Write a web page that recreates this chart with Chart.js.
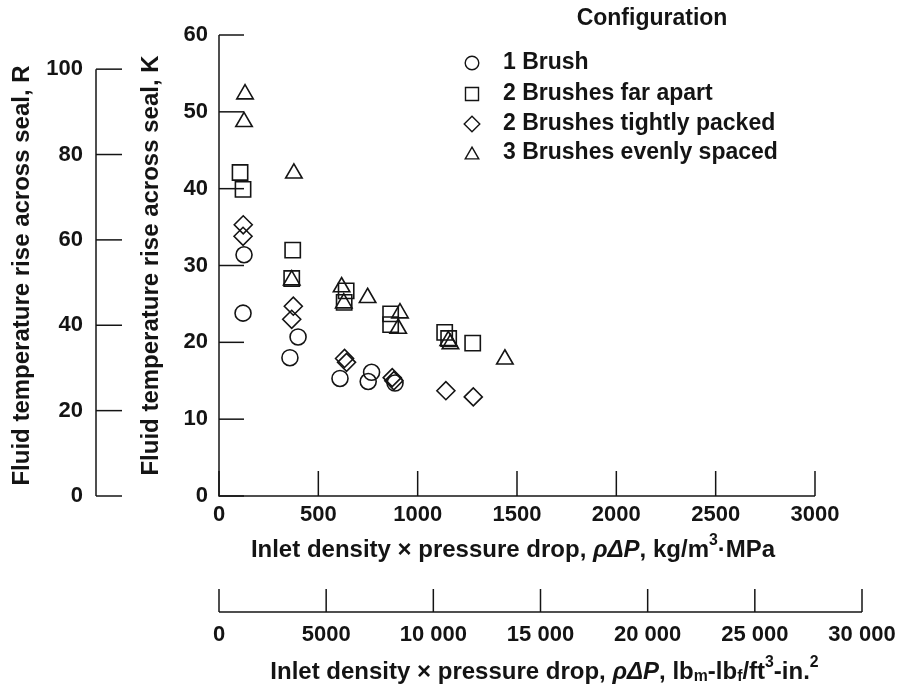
<!DOCTYPE html>
<html>
<head>
<meta charset="utf-8">
<style>
html,body{margin:0;padding:0;background:#ffffff;}
#wrap{width:902px;height:691px;position:relative;}
</style>
<script src="https://cdn.jsdelivr.net/npm/chart.js@4/dist/chart.umd.min.js"></script>
</head>
<body>
<div id="wrap"><canvas id="c" width="902" height="691"></canvas></div>
<script>
// ---------------- data ----------------
const seriesNames = ['1 Brush', '2 Brushes far apart', '2 Brushes tightly packed', '3 Brushes evenly spaced'];

// x: inlet density x pressure drop, kg/m3·MPa ; y: temperature rise, K
const oneBrushX = [126, 121, 357, 398, 609, 768, 751, 886];
const oneBrushK = [31.4, 23.8, 18.0, 20.7, 15.3, 16.1, 14.9, 14.7];

const farApartX = [106, 121, 371, 366, 640, 630, 864, 864, 1136, 1156, 1277];
const farApartK = [42.1, 39.9, 32.0, 28.3, 26.7, 25.2, 23.7, 22.3, 21.3, 20.5, 19.9];

const tightX = [122, 121, 374, 366, 632, 642, 872, 880, 1142, 1280];
const tightK = [35.3, 33.8, 24.7, 23.0, 17.9, 17.4, 15.4, 15.0, 13.7, 12.9];

const evenX = [131, 126, 377, 366, 617, 628, 748, 911, 902, 1154, 1165, 1439];
const evenK = [52.3, 48.7, 42.0, 28.1, 27.2, 25.1, 25.8, 23.8, 21.8, 20.2, 19.8, 17.8];

// tick labels
const xTicksSI = [0, 500, 1000, 1500, 2000, 2500, 3000];
const xTicksUS = [0, 5000, 10000, 15000, 20000, 25000, 30000];
const yTicksK = [0, 10, 20, 30, 40, 50, 60];
const yTicksR = [0, 20, 40, 60, 80, 100];

// ---------------- styling ----------------
const INK = '#141414';
const FONT = '"Liberation Sans", Arial, Helvetica, sans-serif';
Chart.defaults.font.family = FONT;
Chart.defaults.color = INK;

function pts(xs, ys) { return xs.map((v, i) => ({x: v, y: ys[i]})); }
function ds(label, xs, ys, style, r) {
  return {
    label: label, data: pts(xs, ys), pointStyle: style, pointRadius: r, pointHoverRadius: r,
    backgroundColor: 'rgba(0,0,0,0)', borderColor: INK, borderWidth: 1.6, showLine: false
  };
}

const datasets = [
  ds(seriesNames[0], oneBrushX, oneBrushK, 'circle', 8),
  ds(seriesNames[1], farApartX, farApartK, 'rect', 10.8),
  ds(seriesNames[2], tightX, tightK, 'rectRot', 9),
  ds(seriesNames[3], evenX, evenK, 'triangle', 9.5)
];

function groupDigits(v) {
  return v >= 10000 ? String(v).replace(/\B(?=(\d{3})+(?!\d))/g, ' ') : String(v);
}

function line(ctx, x1, y1, x2, y2) {
  ctx.beginPath(); ctx.moveTo(x1, y1); ctx.lineTo(x2, y2); ctx.stroke();
}

// axis lines and inward tick marks, placed through the scales
const axisPlugin = {
  id: 'paperAxes',
  beforeDatasetsDraw(chart) {
    const {ctx} = chart;
    const {x, xUS, y, yR} = chart.scales;
    ctx.save();
    ctx.strokeStyle = INK; ctx.lineWidth = 1.5;
    const x0 = x.getPixelForValue(0), x1 = x.getPixelForValue(3000);
    const y0 = y.getPixelForValue(0), y1 = y.getPixelForValue(60);
    line(ctx, x0, y0 + 0.75, x0, y1);
    yTicksK.forEach(v => { const p = y.getPixelForValue(v); line(ctx, x0, p, x0 + 25, p); });
    line(ctx, x0, y0, x1, y0);
    xTicksSI.forEach(v => { const p = x.getPixelForValue(v); line(ctx, p, y0, p, y0 - 25); });
    const rx = yR.right - 34;
    line(ctx, rx, yR.getPixelForValue(0), rx, yR.getPixelForValue(100));
    yTicksR.forEach(v => { const p = yR.getPixelForValue(v); line(ctx, rx, p, rx + 26, p); });
    const uy = xUS.top + 26;
    line(ctx, xUS.getPixelForValue(0), uy, xUS.getPixelForValue(30000), uy);
    xTicksUS.forEach(v => { const p = xUS.getPixelForValue(v); line(ctx, p, uy, p, uy - 23); });
    ctx.restore();
  }
};

// rich-text axis titles for the two x axes
function drawRich(ctx, segs, cx, cy, size) {
  const parts = segs.map(s => {
    const o = (typeof s === 'string') ? {t: s} : s;
    let fs = size, dy = 0, style = 'bold';
    if (o.sup) { fs = size * 0.66; dy = -size * 0.38; }
    if (o.sub) { fs = size * 0.66; dy = size * 0.2; }
    if (o.it) { style = 'italic bold'; }
    const font = style + ' ' + fs + 'px ' + FONT;
    ctx.font = font;
    const text = o.t || o.sup || o.sub || o.it;
    return {text, font, dy, w: ctx.measureText(text).width};
  });
  const total = parts.reduce((a, p) => a + p.w, 0);
  let xx = cx - total / 2;
  ctx.textBaseline = 'middle'; ctx.textAlign = 'left'; ctx.fillStyle = INK;
  parts.forEach(p => { ctx.font = p.font; ctx.fillText(p.text, xx, cy + p.dy); xx += p.w; });
}

const titlePlugin = {
  id: 'xTitles',
  afterDraw(chart) {
    const {ctx} = chart;
    const {x, xUS} = chart.scales;
    ctx.save();
    const cSI = (x.getPixelForValue(0) + x.getPixelForValue(3000)) / 2 - 4;
    drawRich(ctx, ['Inlet density × pressure drop, ', {it: 'ρΔP'}, ', kg/m', {sup: '3'}, '·MPa'], cSI, x.top + 54, 24);
    const cUS = (xUS.getPixelForValue(0) + xUS.getPixelForValue(30000)) / 2 + 4;
    drawRich(ctx, ['Inlet density × pressure drop, ', {it: 'ρΔP'}, ', lb', {sub: 'm'}, '-lb', {sub: 'f'}, '/ft', {sup: '3'}, '-in.', {sup: '2'}], cUS, xUS.top + 86, 24);
    ctx.restore();
  }
};

// legend drawn from the datasets
const legendPlugin = {
  id: 'paperLegend',
  afterDraw(chart) {
    const {ctx} = chart;
    ctx.save();
    ctx.fillStyle = INK;
    ctx.font = 'bold 23px ' + FONT;
    ctx.textAlign = 'center'; ctx.textBaseline = 'middle';
    ctx.fillText('Configuration', 652, 19);
    const rows = [63, 94, 124, 153];
    const legR = [6.8, 9.2, 7.8, 7.8];
    chart.data.datasets.forEach((d, i) => {
      ctx.strokeStyle = INK; ctx.lineWidth = 1.4; ctx.fillStyle = 'rgba(0,0,0,0)';
      Chart.helpers.drawPoint(ctx, {pointStyle: d.pointStyle, radius: legR[i], borderWidth: 1.4, rotation: 0}, 472, rows[i] + (d.pointStyle === 'triangle' ? 2 : 0));
      ctx.fillStyle = INK;
      ctx.font = 'bold 23px ' + FONT;
      ctx.textAlign = 'left'; ctx.textBaseline = 'middle';
      ctx.fillText(d.label, 503, rows[i]);
    });
    ctx.restore();
  }
};

function fixW(w) { return s => { s.width = w; s.paddingTop = 0; s.paddingBottom = 0; }; }
function fixH(h) { return s => { s.height = h; s.paddingLeft = 0; s.paddingRight = 0; }; }
const tickFont = {size: 22, weight: 'bold'};

new Chart(document.getElementById('c'), {
  type: 'scatter',
  data: {datasets},
  options: {
    responsive: false, animation: false, devicePixelRatio: 1,
    layout: {padding: {left: 0, right: 40, top: 35, bottom: 0}},
    plugins: {legend: {display: false}, tooltip: {enabled: false}},
    scales: {
      x: {
        type: 'linear', position: 'bottom', weight: 0, min: 0, max: 3236.6,
        grid: {display: false, drawTicks: false}, border: {display: false},
        afterBuildTicks: s => { s.ticks = xTicksSI.map(v => ({value: v})); },
        ticks: {autoSkip: false, maxRotation: 0, padding: 6, font: tickFont, color: INK, callback: v => String(v)},
        afterFit: fixH(90)
      },
      xUS: {
        type: 'linear', position: 'bottom', weight: 1, min: 0, max: 30000,
        grid: {display: false, drawTicks: false}, border: {display: false},
        afterBuildTicks: s => { s.ticks = xTicksUS.map(v => ({value: v})); },
        ticks: {autoSkip: false, maxRotation: 0, padding: 36, font: tickFont, color: INK, callback: v => groupDigits(v)},
        afterFit: fixH(105)
      },
      y: {
        type: 'linear', position: 'left', weight: 0, min: 0, max: 60,
        grid: {display: false, drawTicks: false}, border: {display: false},
        afterBuildTicks: s => { s.ticks = yTicksK.map(v => ({value: v})); },
        ticks: {autoSkip: false, padding: 11, font: tickFont, color: INK, callback: v => String(v)},
        title: {display: true, text: 'Fluid temperature rise across seal, K', color: INK,
                font: {size: 24, weight: 'bold'}, padding: {top: 7, bottom: 0}},
        afterFit: fixW(89)
      },
      yR: {
        type: 'linear', position: 'left', weight: 1, min: 0, max: 108,
        grid: {display: false, drawTicks: false}, border: {display: false},
        afterBuildTicks: s => { s.ticks = yTicksR.map(v => ({value: v})); },
        ticks: {autoSkip: false, padding: 47, font: tickFont, color: INK, callback: v => String(v)},
        title: {display: true, text: 'Fluid temperature rise across seal, R   ', color: INK,
                font: {size: 24, weight: 'bold'}, padding: {top: 8, bottom: 0}},
        afterFit: fixW(130)
      }
    }
  },
  plugins: [axisPlugin, titlePlugin, legendPlugin]
});
</script>
</body>
</html>
